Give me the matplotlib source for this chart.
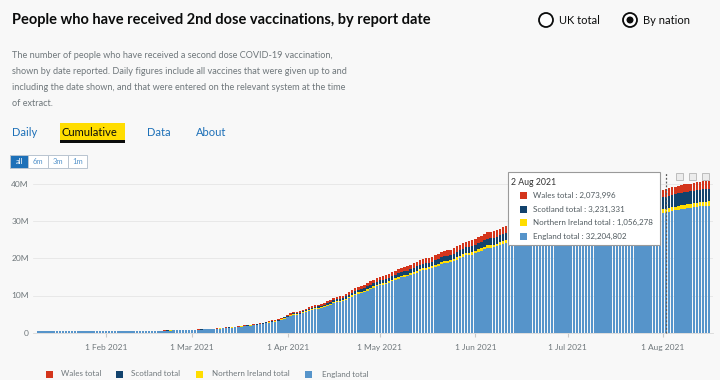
import matplotlib.pyplot as plt
import matplotlib.dates as mdates
from matplotlib.patches import Rectangle, Ellipse
import numpy as np
import pandas as pd

# cumulative people with 2nd dose, millions, one value per report day (10 Jan - 16 Aug 2021)
start_date = "2021-01-10"

england = [
    0.38, 0.38, 0.38, 0.39, 0.39, 0.39, 0.40,
    0.40, 0.40, 0.41, 0.41, 0.42, 0.42, 0.42,
    0.43, 0.43, 0.43, 0.44, 0.44, 0.44, 0.45,
    0.45, 0.45, 0.46, 0.46, 0.46, 0.47, 0.47,
    0.47, 0.47, 0.48, 0.48, 0.49, 0.49, 0.50,
    0.50, 0.51, 0.52, 0.53, 0.54, 0.55, 0.56,
    0.57, 0.58, 0.60, 0.63, 0.66, 0.68, 0.71,
    0.72, 0.73, 0.76, 0.79, 0.83, 0.88, 0.93,
    0.93, 0.96, 1.02, 1.10, 1.19, 1.26, 1.34,
    1.39, 1.43, 1.52, 1.61, 1.70, 1.81, 1.89,
    2.00, 2.07, 2.22, 2.39, 2.56, 2.74, 2.91,
    3.00, 3.15, 3.43, 3.79, 4.18, 4.52, 4.78,
    4.85, 4.99, 5.28, 5.57, 5.86, 6.11, 6.35,
    6.43, 6.57, 6.86, 7.21, 7.56, 7.89, 8.18,
    8.31, 8.48, 8.86, 9.28, 9.71, 10.13, 10.52,
    10.68, 10.89, 11.28, 11.70, 12.08, 12.46, 12.76,
    12.89, 13.06, 13.39, 13.77, 14.16, 14.55, 14.84,
    14.96, 15.14, 15.47, 15.82, 16.16, 16.49, 16.79,
    16.91, 17.04, 17.34, 17.68, 18.02, 18.36, 18.66,
    18.78, 18.96, 19.29, 19.67, 20.05, 20.43, 20.78,
    20.88, 20.99, 21.32, 21.69, 22.06, 22.42, 22.74,
    22.85, 22.95, 23.22, 23.50, 23.77, 24.04, 24.27,
    24.33, 24.43, 24.67, 24.92, 25.16, 25.40, 25.60,
    25.68, 25.79, 25.99, 26.19, 26.40, 26.60, 26.75,
    26.83, 26.89, 27.11, 27.31, 27.52, 27.73, 27.90,
    27.97, 28.04, 28.25, 28.46, 28.66, 28.88, 29.04,
    29.12, 29.19, 29.36, 29.53, 29.71, 29.87, 30.00,
    30.08, 30.17, 30.33, 30.51, 30.68, 30.86, 30.99,
    31.07, 31.15, 31.33, 31.51, 31.69, 31.87, 32.01,
    32.10, 32.204802, 32.41, 32.63, 32.85, 33.07, 33.25,
    33.33, 33.42, 33.54, 33.68, 33.81, 33.94, 34.02,
    34.06, 34.15,
]

northern_ireland = [
    0.02, 0.02, 0.02, 0.02, 0.02, 0.02, 0.02,
    0.02, 0.02, 0.02, 0.02, 0.02, 0.02, 0.02,
    0.02, 0.02, 0.02, 0.02, 0.02, 0.02, 0.02,
    0.02, 0.02, 0.02, 0.02, 0.02, 0.02, 0.02,
    0.02, 0.02, 0.02, 0.02, 0.02, 0.02, 0.02,
    0.02, 0.02, 0.02, 0.02, 0.02, 0.02, 0.02,
    0.02, 0.02, 0.02, 0.02, 0.02, 0.02, 0.02,
    0.02, 0.02, 0.02, 0.03, 0.03, 0.03, 0.03,
    0.03, 0.03, 0.04, 0.04, 0.04, 0.04, 0.05,
    0.05, 0.05, 0.05, 0.06, 0.06, 0.06, 0.07,
    0.07, 0.07, 0.08, 0.08, 0.09, 0.09, 0.10,
    0.10, 0.11, 0.12, 0.13, 0.14, 0.16, 0.17,
    0.17, 0.17, 0.18, 0.19, 0.19, 0.20, 0.21,
    0.21, 0.21, 0.22, 0.23, 0.24, 0.25, 0.26,
    0.26, 0.27, 0.28, 0.30, 0.31, 0.32, 0.33,
    0.34, 0.35, 0.36, 0.37, 0.38, 0.40, 0.41,
    0.41, 0.42, 0.43, 0.44, 0.45, 0.46, 0.47,
    0.48, 0.48, 0.49, 0.50, 0.51, 0.53, 0.53,
    0.54, 0.54, 0.55, 0.56, 0.57, 0.58, 0.59,
    0.60, 0.60, 0.61, 0.63, 0.64, 0.65, 0.66,
    0.67, 0.67, 0.68, 0.69, 0.70, 0.72, 0.73,
    0.73, 0.74, 0.75, 0.75, 0.76, 0.77, 0.78,
    0.78, 0.79, 0.80, 0.80, 0.81, 0.82, 0.83,
    0.83, 0.83, 0.84, 0.85, 0.85, 0.86, 0.87,
    0.87, 0.88, 0.88, 0.89, 0.90, 0.90, 0.91,
    0.91, 0.92, 0.92, 0.93, 0.94, 0.94, 0.95,
    0.95, 0.96, 0.96, 0.97, 0.97, 0.98, 0.98,
    0.99, 0.99, 1.00, 1.00, 1.01, 1.01, 1.02,
    1.02, 1.03, 1.03, 1.04, 1.04, 1.05, 1.05,
    1.05, 1.056278, 1.06, 1.07, 1.07, 1.08, 1.08,
    1.09, 1.09, 1.10, 1.10, 1.11, 1.11, 1.12,
    1.12, 1.12,
]

scotland = [
    0.01, 0.01, 0.01, 0.01, 0.01, 0.01, 0.01,
    0.01, 0.01, 0.01, 0.01, 0.01, 0.01, 0.01,
    0.01, 0.01, 0.01, 0.01, 0.01, 0.01, 0.01,
    0.01, 0.01, 0.01, 0.01, 0.01, 0.01, 0.01,
    0.01, 0.01, 0.01, 0.01, 0.01, 0.01, 0.01,
    0.01, 0.01, 0.01, 0.01, 0.01, 0.01, 0.01,
    0.01, 0.01, 0.01, 0.01, 0.01, 0.01, 0.01,
    0.02, 0.02, 0.02, 0.03, 0.03, 0.03, 0.03,
    0.04, 0.04, 0.05, 0.05, 0.05, 0.06, 0.06,
    0.06, 0.07, 0.07, 0.07, 0.08, 0.08, 0.09,
    0.09, 0.10, 0.10, 0.11, 0.12, 0.13, 0.13,
    0.14, 0.14, 0.16, 0.17, 0.19, 0.21, 0.22,
    0.24, 0.26, 0.29, 0.32, 0.35, 0.38, 0.41,
    0.45, 0.47, 0.49, 0.51, 0.54, 0.56, 0.58,
    0.59, 0.60, 0.63, 0.66, 0.69, 0.72, 0.74,
    0.76, 0.77, 0.80, 0.83, 0.86, 0.88, 0.90,
    0.91, 0.92, 0.95, 0.98, 1.00, 1.03, 1.05,
    1.06, 1.07, 1.10, 1.12, 1.14, 1.17, 1.19,
    1.20, 1.21, 1.23, 1.25, 1.28, 1.30, 1.32,
    1.33, 1.34, 1.37, 1.39, 1.42, 1.45, 1.47,
    1.50, 1.53, 1.57, 1.62, 1.67, 1.72, 1.77,
    1.80, 1.83, 1.88, 1.93, 1.98, 2.03, 2.07,
    2.10, 2.13, 2.17, 2.21, 2.25, 2.29, 2.32,
    2.34, 2.37, 2.40, 2.43, 2.46, 2.49, 2.52,
    2.54, 2.56, 2.59, 2.62, 2.65, 2.68, 2.70,
    2.72, 2.74, 2.77, 2.80, 2.83, 2.86, 2.88,
    2.90, 2.92, 2.94, 2.96, 2.98, 3.00, 3.02,
    3.03, 3.04, 3.06, 3.08, 3.10, 3.12, 3.13,
    3.14, 3.15, 3.17, 3.18, 3.20, 3.21, 3.22,
    3.23, 3.231331, 3.25, 3.27, 3.29, 3.31, 3.32,
    3.33, 3.34, 3.35, 3.36, 3.37, 3.38, 3.39,
    3.40, 3.40,
]

wales = [
    0.01, 0.01, 0.01, 0.01, 0.01, 0.01, 0.01,
    0.01, 0.01, 0.01, 0.01, 0.01, 0.01, 0.01,
    0.01, 0.01, 0.01, 0.01, 0.01, 0.01, 0.01,
    0.01, 0.01, 0.01, 0.01, 0.01, 0.01, 0.01,
    0.01, 0.01, 0.01, 0.01, 0.01, 0.01, 0.01,
    0.01, 0.01, 0.01, 0.01, 0.01, 0.01, 0.01,
    0.01, 0.01, 0.01, 0.01, 0.01, 0.01, 0.01,
    0.03, 0.03, 0.03, 0.04, 0.04, 0.04, 0.04,
    0.06, 0.07, 0.07, 0.08, 0.08, 0.09, 0.09,
    0.10, 0.10, 0.10, 0.11, 0.12, 0.12, 0.13,
    0.14, 0.14, 0.15, 0.16, 0.18, 0.19, 0.20,
    0.21, 0.22, 0.24, 0.26, 0.29, 0.31, 0.33,
    0.36, 0.38, 0.40, 0.42, 0.45, 0.46, 0.48,
    0.49, 0.50, 0.53, 0.55, 0.58, 0.60, 0.63,
    0.64, 0.65, 0.68, 0.71, 0.74, 0.78, 0.81,
    0.82, 0.84, 0.86, 0.90, 0.93, 0.96, 0.98,
    0.99, 1.00, 1.03, 1.06, 1.09, 1.11, 1.14,
    1.15, 1.16, 1.19, 1.21, 1.24, 1.26, 1.29,
    1.30, 1.31, 1.33, 1.36, 1.38, 1.41, 1.43,
    1.44, 1.45, 1.48, 1.51, 1.54, 1.57, 1.59,
    1.60, 1.61, 1.63, 1.65, 1.67, 1.69, 1.71,
    1.72, 1.73, 1.75, 1.77, 1.79, 1.81, 1.83,
    1.84, 1.85, 1.86, 1.87, 1.88, 1.89, 1.90,
    1.90, 1.91, 1.92, 1.93, 1.94, 1.95, 1.96,
    1.96, 1.97, 1.97, 1.98, 1.98, 1.99, 1.99,
    2.00, 2.00, 2.01, 2.01, 2.02, 2.02, 2.03,
    2.03, 2.03, 2.04, 2.04, 2.04, 2.05, 2.05,
    2.05, 2.05, 2.06, 2.06, 2.06, 2.06, 2.06,
    2.07, 2.07, 2.07, 2.07, 2.07, 2.07, 2.07,
    2.07, 2.073996, 2.08, 2.08, 2.09, 2.09, 2.10,
    2.10, 2.10, 2.11, 2.11, 2.11, 2.12, 2.12,
    2.12, 2.13,
]

series_names = ["Wales total", "Scotland total", "Northern Ireland total", "England total"]
y_ticks = [0, 10, 20, 30, 40]
hover_date = "2021-08-02"

C_ENG = "#5694ca"
C_NI = "#ffdd00"
C_SCO = "#12436d"
C_WAL = "#d4351c"
BG = "#f8f8f8"
GREY = "#6f777b"
BLUE = "#1d70b8"

plt.rcParams["font.family"] = ["Lato", "DejaVu Sans"]

W, H = 720, 380
def fx(x):
    return x / W
def fy(y):
    return 1 - y / H

fig = plt.figure(figsize=(7.2, 3.8), dpi=100, facecolor=BG)

# ---- header ----
fig.text(fx(12), fy(20), "People who have received 2nd dose vaccinations, by report date",
         fontsize=10.5, fontweight="bold", color="#0b0c0c", va="center")

for cx, label, on in [(546, "UK total", False), (630, "By nation", True)]:
    fig.add_artist(Ellipse((fx(cx), fy(20)), 14 / W, 14 / H, transform=fig.transFigure,
                           facecolor="white", edgecolor="#0b0c0c", lw=1.3))
    if on:
        fig.add_artist(Ellipse((fx(cx), fy(20)), 7 / W, 7 / H, transform=fig.transFigure,
                               facecolor="#0b0c0c", edgecolor="none"))
    fig.text(fx(cx + 13), fy(20), label, fontsize=8, color="#0b0c0c", va="center")

desc = [
    "The number of people who have received a second dose COVID-19 vaccination,",
    "shown by date reported. Daily figures include all vaccines that were given up to and",
    "including the date shown, and that were entered on the relevant system at the time",
    "of extract.",
]
for i, line in enumerate(desc):
    fig.text(fx(12), fy(55 + i * 16.3), line, fontsize=6.6, color=GREY, va="center")

# tabs
fig.add_artist(Rectangle((fx(60), fy(141)), 65 / W, 18 / H, transform=fig.transFigure,
                         facecolor=C_NI, edgecolor="none"))
fig.add_artist(Rectangle((fx(60), fy(143)), 65 / W, 2.5 / H, transform=fig.transFigure,
                         facecolor="#0b0c0c", edgecolor="none"))
fig.text(fx(12), fy(132), "Daily", fontsize=8, color=BLUE, va="center")
fig.text(fx(62), fy(132), "Cumulative", fontsize=8, color="#0b0c0c", va="center")
fig.text(fx(147), fy(132), "Data", fontsize=8, color=BLUE, va="center")
fig.text(fx(196), fy(132), "About", fontsize=8, color=BLUE, va="center")

# range buttons
for x0, x1, lab, on in [(10, 28, "all", True), (28, 48, "6m", False),
                        (48, 68, "3m", False), (68, 87, "1m", False)]:
    fig.add_artist(Rectangle((fx(x0), fy(168)), (x1 - x0) / W, 13 / H, transform=fig.transFigure,
                             facecolor=BLUE if on else "white", edgecolor="#b8c4d0", lw=0.7))
    fig.text(fx((x0 + x1) / 2), fy(161.5), lab, fontsize=5.5, ha="center", va="center",
             color="white" if on else "#5694ca")

# ---- chart ----
dates = pd.date_range(start_date, periods=len(england), freq="D")
xs = mdates.date2num(dates)
eng = np.array(england)
ni = np.array(northern_ireland)
sco = np.array(scotland)
wal = np.array(wales)

ax = fig.add_axes([fx(33), fy(332.7), (713 - 33) / W, (332.7 - 176.5) / H])
ax.set_facecolor(BG)

bw = 0.8
ax.bar(xs, eng, width=bw, color=C_ENG, lw=0)
ax.bar(xs, ni, width=bw, bottom=eng, color=C_NI, lw=0)
ax.bar(xs, sco, width=bw, bottom=eng + ni, color=C_SCO, lw=0)
ax.bar(xs, wal, width=bw, bottom=eng + ni + sco, color=C_WAL, lw=0)

feb1 = mdates.date2num(pd.Timestamp("2021-02-01"))
aug1 = mdates.date2num(pd.Timestamp("2021-08-01"))
ppd = (663 - 106) / (aug1 - feb1)
ax.set_xlim(feb1 - (106 - 33) / ppd, feb1 + (713 - 106) / ppd)
ax.set_ylim(0, (332.7 - 176.5) / 3.72)

ax.set_yticks(y_ticks)
ax.set_yticklabels(["0" if v == 0 else f"{v}M" for v in y_ticks])
ax.xaxis.set_major_locator(mdates.MonthLocator())
ax.xaxis.set_major_formatter(mdates.DateFormatter("%-d %b %Y"))
ax.tick_params(axis="x", length=3, color="#c8c8c8", labelsize=6, labelcolor=GREY, pad=5)
ax.tick_params(axis="y", length=0, labelsize=6, labelcolor=GREY, pad=3)
ax.yaxis.grid(True, color="#e6e6e6", lw=0.6)
ax.set_axisbelow(True)
for s in ["top", "right", "left"]:
    ax.spines[s].set_visible(False)
ax.spines["bottom"].set_color("#d8d8d8")
ax.spines["bottom"].set_linewidth(0.6)

# hover line
hx = mdates.date2num(pd.Timestamp(hover_date))
ax.vlines(hx, 0, (332.7 - 172) / 3.72, colors="#5a5a5a", linestyles=(0, (1.5, 1.5)),
          lw=0.9, clip_on=False, zorder=5)

# toolbar icons
for ix in [676, 689, 702]:
    fig.add_artist(Rectangle((fx(ix), fy(180)), 7 / W, 7 / H, transform=fig.transFigure,
                             facecolor="#ececec", edgecolor="#b5b5b5", lw=0.6))

# tooltip
idx = dates.get_loc(pd.Timestamp(hover_date))
fig.add_artist(Rectangle((fx(508), fy(245)), (660 - 508) / W, (245 - 172) / H,
                         transform=fig.transFigure, facecolor="white", edgecolor="#9a9a9a",
                         lw=0.8, zorder=10))
fig.text(fx(511), fy(182.5), dates[idx].strftime("%-d %b %Y"), fontsize=6.3, color="#333333",
         va="center", zorder=11)
tip_rows = [(wal, C_WAL), (sco, C_SCO), (ni, C_NI), (eng, C_ENG)]
for i, ((arr, col), name) in enumerate(zip(tip_rows, series_names)):
    yy = 195.5 + i * 13.5
    fig.add_artist(Rectangle((fx(519.5), fy(yy + 3.5)), 7 / W, 7 / H, transform=fig.transFigure,
                             facecolor=col, edgecolor="none", zorder=11))
    fig.text(fx(533), fy(yy), f"{name} : {round(arr[idx] * 1e6):,}", fontsize=5.8,
             color="#505a5f", va="center", zorder=11)

# legend
leg_cols = [C_WAL, C_SCO, C_NI, C_ENG]
for sx, tx, col, name in zip([46, 116, 196, 305], [61, 131, 212, 322], leg_cols, series_names):
    fig.add_artist(Rectangle((fx(sx), fy(377.5)), 7 / W, 7 / H, transform=fig.transFigure,
                             facecolor=col, edgecolor="none"))
    fig.text(fx(tx), fy(374), name, fontsize=5.8, color=GREY, va="center")

fig.savefig("out.png", dpi=100, facecolor=BG)
